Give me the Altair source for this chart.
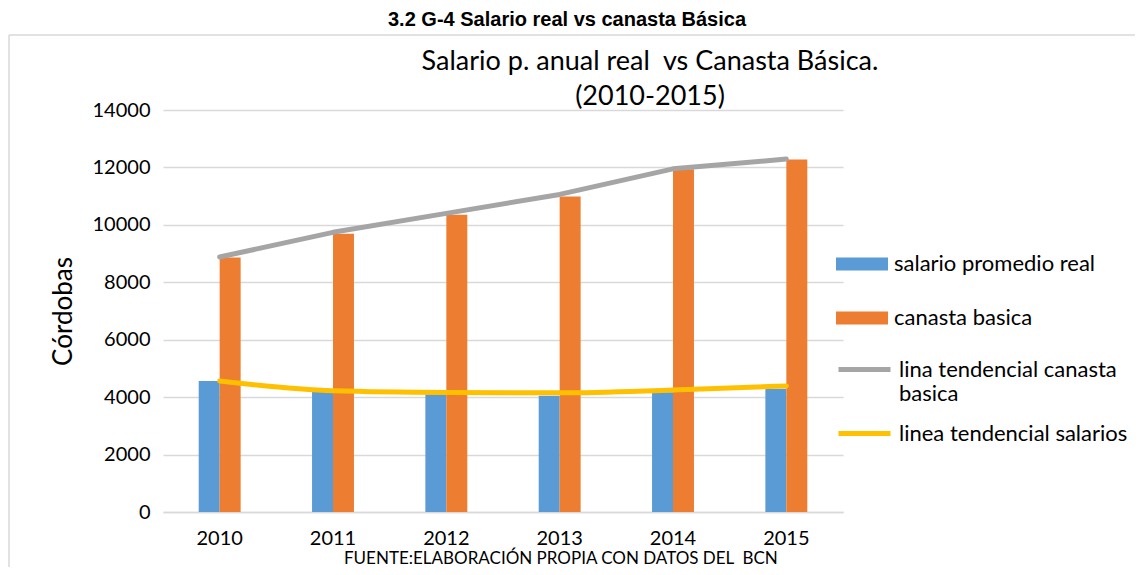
import altair as alt
import pandas as pd

years = ["2010", "2011", "2012", "2013", "2014", "2015"]
salario = [4560, 4190, 4100, 4050, 4170, 4290]
canasta = [8860, 9690, 10350, 10990, 11940, 12280]
tend_canasta = [8880, 9740, 10400, 11060, 11950, 12290]
tend_salarios = [4560, 4220, 4160, 4150, 4250, 4390]

bar_names = ["salario promedio real", "canasta basica"]
line_names = ["lina tendencial canasta basica", "linea tendencial salarios"]

bars = pd.DataFrame({
    "year": years * 2,
    "series": [bar_names[0]] * 6 + [bar_names[1]] * 6,
    "value": salario + canasta,
})
gray_df = pd.DataFrame({"year": years, "series": line_names[0], "value": tend_canasta})
yel_df = pd.DataFrame({"year": years, "series": line_names[1], "value": tend_salarios})

FONT = "Lato"

x_enc = alt.X("year:N", scale=alt.Scale(paddingInner=0.63, paddingOuter=0.315),
              axis=alt.Axis(title=None, labelAngle=0, labelFontSize=20, labelFont=FONT,
                            labelColor="#000000", labelPadding=16, ticks=False,
                            domainColor="#d9d9d9", domainWidth=1.5, grid=False))
y_scale = alt.Scale(domain=[0, 14000])

bar_layer = alt.Chart(bars).mark_bar().encode(
    x=x_enc,
    xOffset=alt.XOffset("series:N", sort=bar_names),
    y=alt.Y("value:Q", scale=y_scale,
            axis=alt.Axis(title="Córdobas", values=list(range(0, 14001, 2000)), format="d",
                          titleFontSize=26, titleFont=FONT, titleFontWeight="normal",
                          titleColor="#000000", titlePadding=16,
                          labelFontSize=20, labelFont=FONT, labelColor="#000000",
                          labelPadding=13, ticks=False, domain=False,
                          gridColor="#d9d9d9", gridWidth=1.5)),
    fill=alt.Fill("series:N", sort=bar_names,
                  scale=alt.Scale(domain=bar_names, range=["#5B9BD5", "#ED7D31"]),
                  legend=alt.Legend(title=None, orient="none", legendX=673, legendY=128,
                                    symbolType="M-1,-0.25H1V0.25H-1Z", symbolSize=2704,
                                    symbolStrokeWidth=0, labelFontSize=22, labelFont=FONT,
                                    labelColor="#000000", rowPadding=17, labelOffset=6,
                                    labelLimit=400)),
)

stroke_scale = alt.Scale(domain=line_names, range=["#A5A5A5", "#FFC000"])
stroke_legend = alt.Legend(title=None, orient="none", legendX=673, legendY=231,
                           symbolType="stroke", symbolSize=2704, symbolStrokeWidth=5,
                           labelFontSize=22, labelFont=FONT, labelColor="#000000",
                           rowPadding=-20, labelOffset=6, labelLimit=400,
                           labelBaseline="middle",
                           labelExpr="datum.label == 'lina tendencial canasta basica' ? ['lina tendencial canasta', 'basica'] : datum.label")

gray_layer = alt.Chart(gray_df).mark_line(strokeWidth=5, strokeCap="round", strokeJoin="round").encode(
    x=alt.X("year:N"),
    y=alt.Y("value:Q", scale=y_scale),
    stroke=alt.Stroke("series:N", scale=stroke_scale, legend=stroke_legend),
)
yel_layer = alt.Chart(yel_df).mark_line(strokeWidth=5, strokeCap="round", interpolate="monotone").encode(
    x=alt.X("year:N"),
    y=alt.Y("value:Q", scale=y_scale),
    stroke=alt.Stroke("series:N", scale=stroke_scale, legend=stroke_legend),
)

one = pd.DataFrame({"a": [0]})
heading = alt.Chart(one).mark_text(font="Liberation Sans", fontSize=20, fontWeight="bold",
                                   align="center", baseline="middle", color="#000000").encode(
    x=alt.value(404), y=alt.value(-90), text=alt.value("3.2 G-4 Salario real vs canasta Básica"))
title1 = alt.Chart(one).mark_text(font=FONT, fontSize=27, align="center", baseline="middle",
                                  color="#000000").encode(
    x=alt.value(487), y=alt.value(-48), text=alt.value("Salario p. anual real \u00a0vs Canasta Básica."))
title2 = alt.Chart(one).mark_text(font=FONT, fontSize=27, align="center", baseline="middle",
                                  color="#000000").encode(
    x=alt.value(487), y=alt.value(-13), text=alt.value("(2010-2015)"))
footer = alt.Chart(one).mark_text(font=FONT, fontSize=17, align="left", baseline="middle",
                                  color="#000000").encode(
    x=alt.value(181), y=alt.value(449), text=alt.value("FUENTE:ELABORACIÓN PROPIA CON DATOS DEL \u00a0BCN"))
border_top = alt.Chart(one).mark_rule(color="#d9d9d9", strokeWidth=1.5).encode(
    x=alt.value(-154), x2=alt.value(980), y=alt.value(-75))
border_left = alt.Chart(one).mark_rule(color="#d9d9d9", strokeWidth=1.5).encode(
    x=alt.value(-154), y=alt.value(-75), y2=alt.value(460))

chart = alt.layer(border_top, border_left, bar_layer, gray_layer, yel_layer,
                  heading, title1, title2, footer).properties(
    width=680, height=402,
    autosize=alt.AutoSizeParams(type="none"),
    padding={"left": 155, "top": 102, "right": 292, "bottom": 55},
).configure_view(stroke=None)

chart.save("out.html", embed_options={"renderer": "svg", "actions": False})
